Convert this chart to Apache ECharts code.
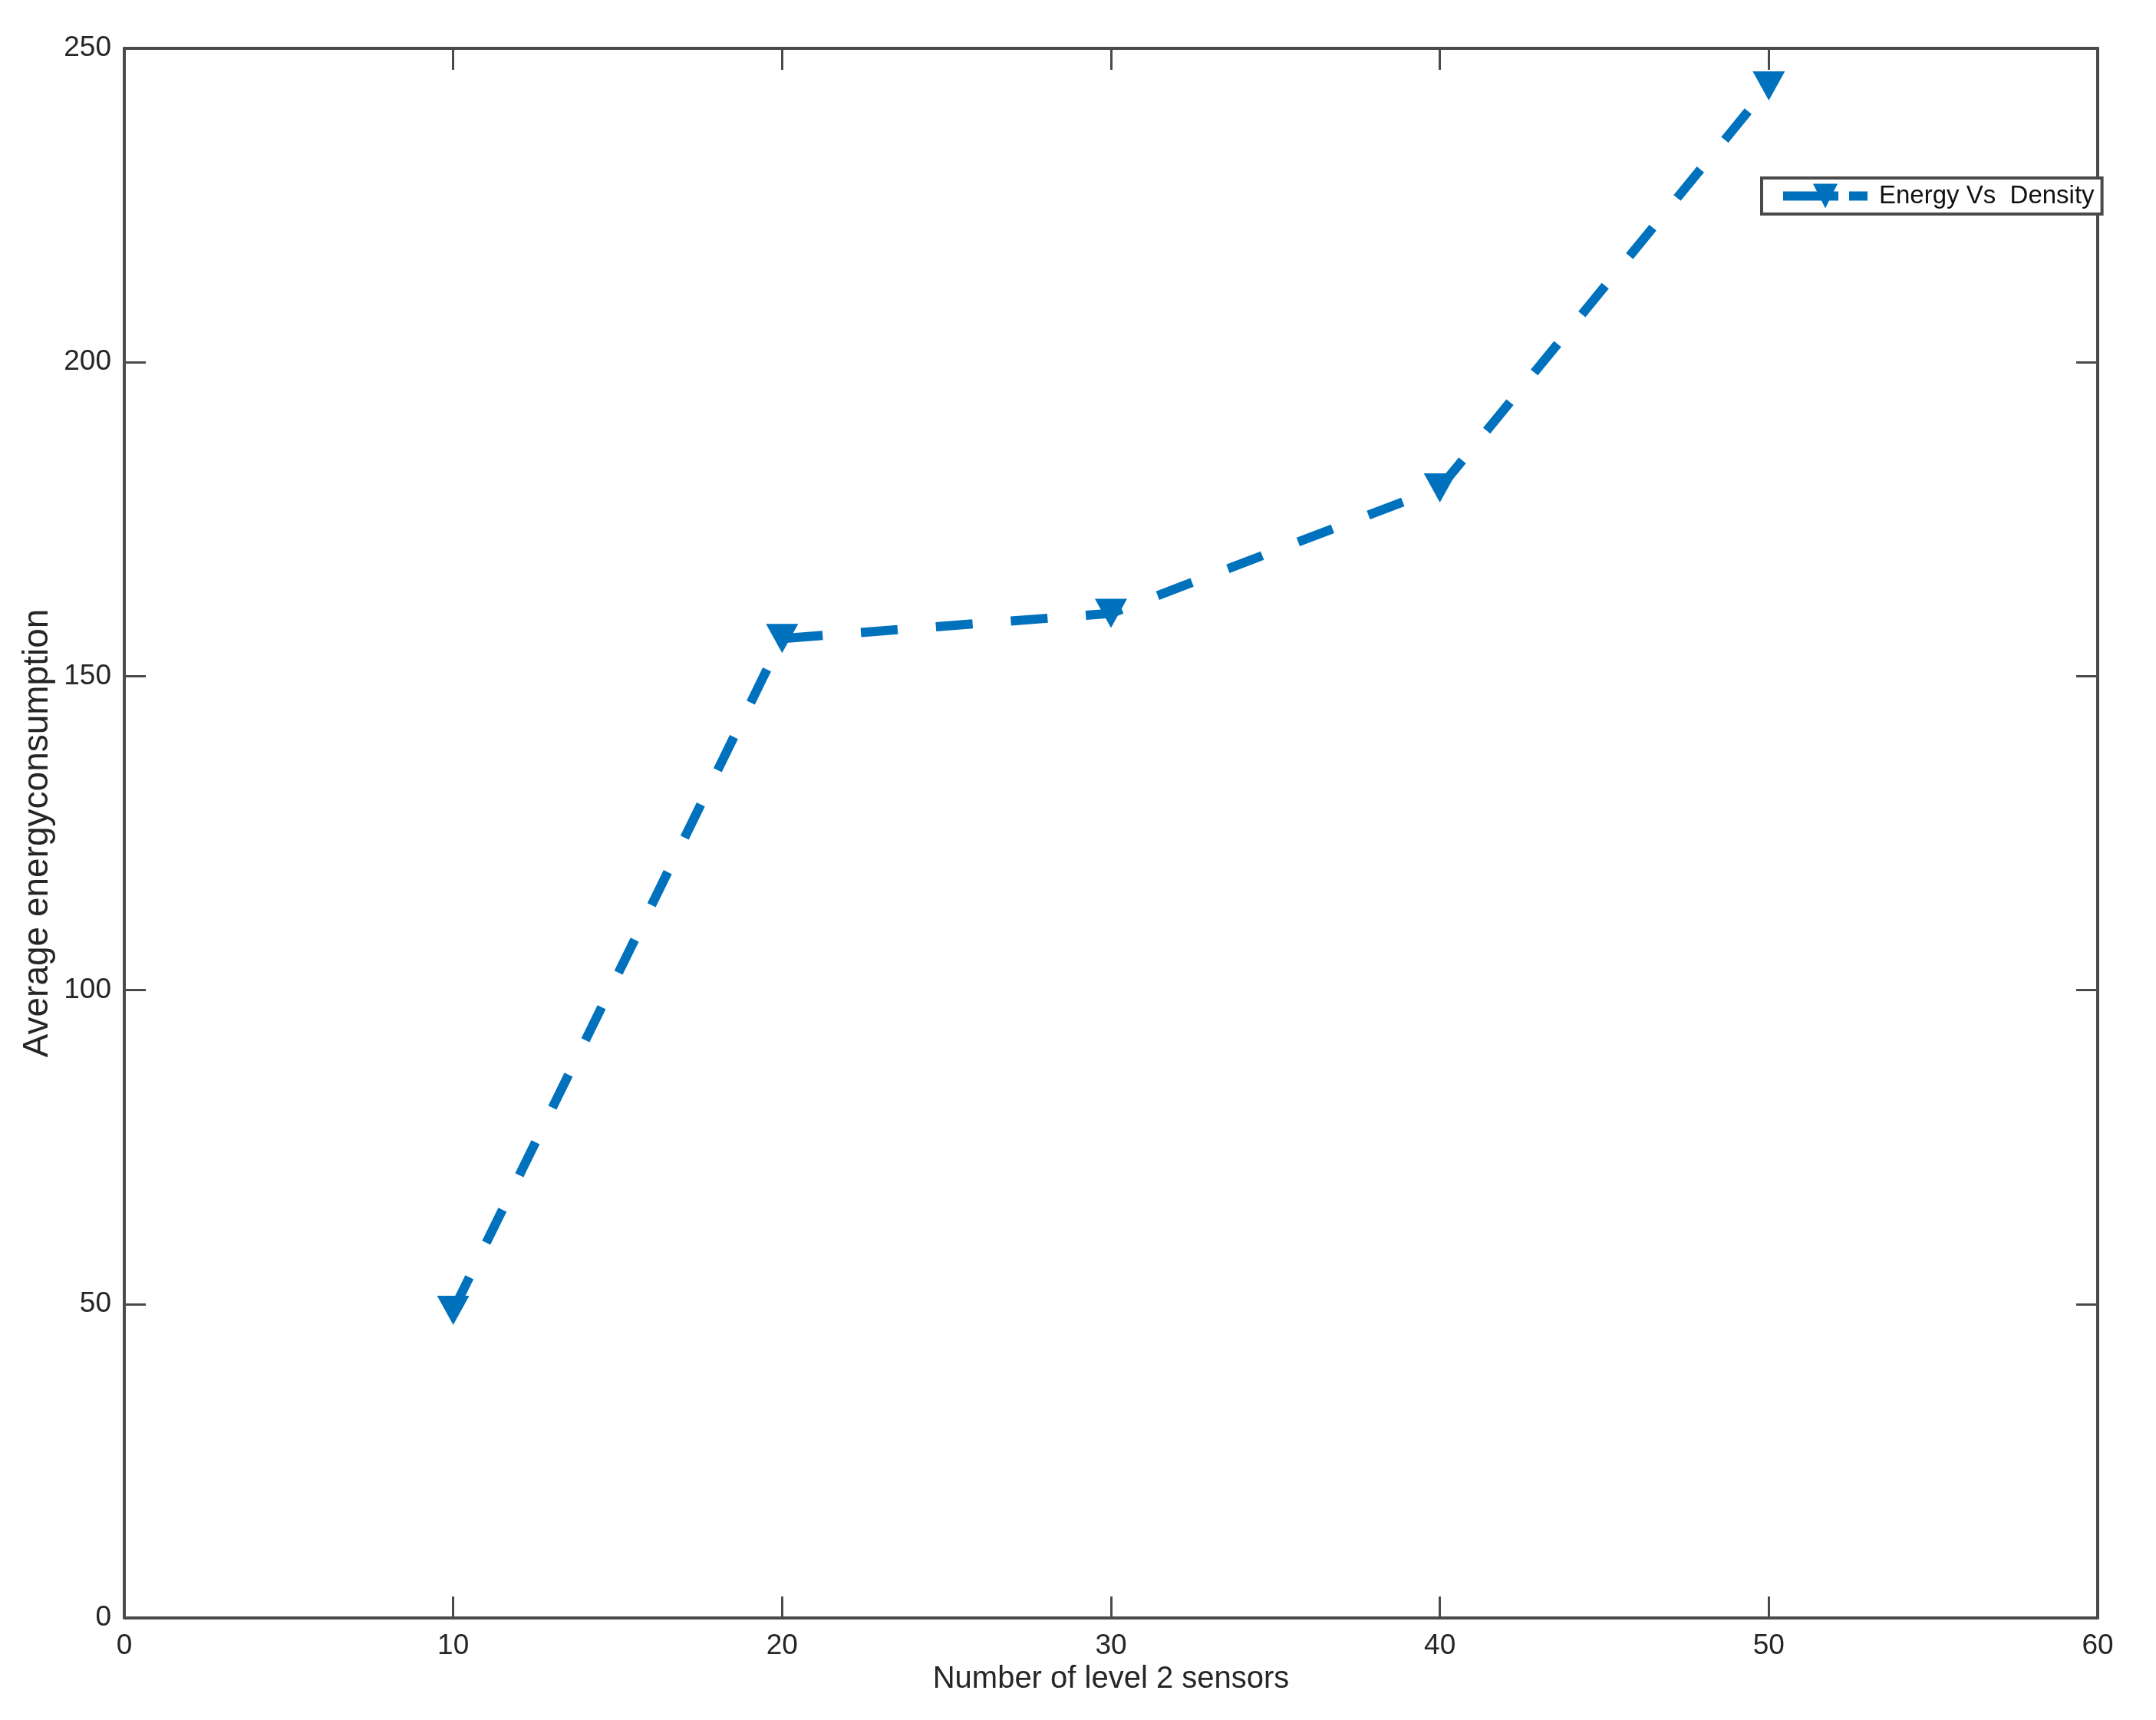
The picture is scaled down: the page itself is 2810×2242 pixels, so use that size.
<!DOCTYPE html>
<html>
<head>
<meta charset="utf-8">
<script src="https://cdn.jsdelivr.net/npm/echarts@6/dist/echarts.min.js"></script>
<style>
html,body{margin:0;padding:0;background:#fff;}
#c{width:2810px;height:2242px;}
</style>
</head>
<body>
<div id="c"></div>
<script>
const sensors = [10, 20, 30, 40, 50];
const energy = [49, 156, 160, 180, 244];
const seriesName = 'Energy Vs  Density';
const xTitle = 'Number of level 2 sensors';
const yTitle = 'Average energyconsumption';

const font = '"Liberation Sans", Arial, sans-serif';
const axisColor = '#4a4a4a';
const textColor = '#262626';
const blue = '#0072BD';

const chart = echarts.init(document.getElementById('c'));
const data = sensors.map((s, i) => [s, energy[i]]);

function frameAxis(extra) {
  return Object.assign({
    axisLine: { show: true, onZero: false, lineStyle: { color: axisColor, width: 4 } },
    axisTick: { show: true, inside: true, length: 28, lineStyle: { color: axisColor, width: 3 } },
    splitLine: { show: false }
  }, extra);
}

chart.setOption({
  backgroundColor: '#ffffff',
  animation: false,
  grid: { left: 162, right: 76, top: 63, bottom: 133, containLabel: false },
  legend: {
    data: [seriesName],
    left: 2296,
    top: 232,
    orient: 'horizontal',
    backgroundColor: '#ffffff',
    borderColor: axisColor,
    borderWidth: 4,
    borderRadius: 0,
    padding: [7, 10, 7, 22],
    itemWidth: 110,
    itemHeight: 40,
    itemGap: 0,
    symbolRotate: 180,
    lineStyle: { color: blue, width: 12, type: [72, 14], cap: 'butt' },
    textStyle: { fontFamily: font, fontSize: 33, color: '#111', padding: [0, 0, 0, 10] }
  },
  xAxis: [
    frameAxis({
      type: 'value', position: 'bottom', min: 0, max: 60, interval: 10,
      name: xTitle, nameLocation: 'middle', nameGap: 58,
      nameTextStyle: { fontFamily: font, fontSize: 40, color: textColor },
      axisLabel: { show: true, margin: 18, fontFamily: font, fontSize: 37, color: textColor }
    }),
    frameAxis({
      type: 'value', position: 'top', min: 0, max: 60, interval: 10,
      axisLabel: { show: false }
    })
  ],
  yAxis: [
    frameAxis({
      type: 'value', position: 'left', min: 0, max: 250, interval: 50,
      name: yTitle, nameLocation: 'middle', nameGap: 66, nameRotate: 90,
      nameTextStyle: { fontFamily: font, fontSize: 46, color: textColor },
      axisLabel: { show: true, margin: 17, fontFamily: font, fontSize: 37, color: textColor }
    }),
    frameAxis({
      type: 'value', position: 'right', min: 0, max: 250, interval: 50,
      axisLabel: { show: false }
    })
  ],
  series: [{
    name: seriesName,
    type: 'line',
    xAxisIndex: 0,
    yAxisIndex: 0,
    data: data,
    symbol: 'triangle',
    symbolRotate: 180,
    symbolSize: [42, 38],
    showAllSymbol: true,
    itemStyle: { color: blue },
    lineStyle: { color: blue, width: 12, type: [48, 50], cap: 'butt' },
    z: 3
  }]
});
</script>
</body>
</html>
